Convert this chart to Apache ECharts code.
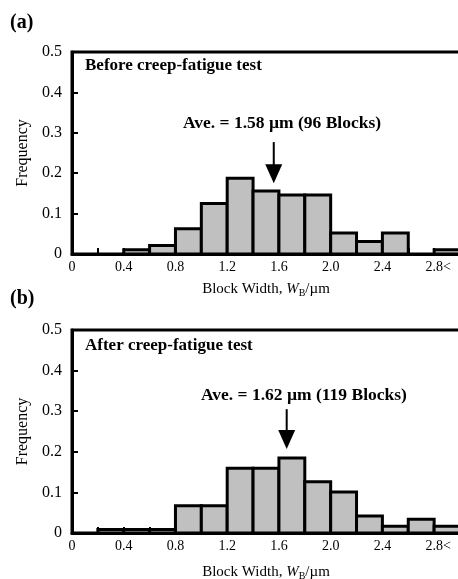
<!DOCTYPE html>
<html><head><meta charset="utf-8">
<script src="https://cdn.jsdelivr.net/npm/echarts@6/dist/echarts.min.js"></script>
<style>html,body{margin:0;padding:0;background:#fff}#c{width:458px;height:579px}</style>
</head><body><div id="c"></div>
<script>
// Data
const binEdges = [0,0.2,0.4,0.6,0.8,1.0,1.2,1.4,1.6,1.8,2.0,2.2,2.4,2.6,2.8,3.0];
const freqBefore = [0,0,1/96,2/96,6/96,12/96,18/96,15/96,14/96,14/96,5/96,3/96,5/96,0,1/96];
const freqAfter  = [0,1/119,1/119,1/119,8/119,8/119,19/119,19/119,22/119,15/119,12/119,5/119,2/119,4/119,2/119];
const xTickLabels = ['0','','0.4','','0.8','','1.2','','1.6','','2.0','','2.4','','2.8<',''];
const yTickLabels = ['0','0.1','0.2','0.3','0.4','0.5'];
const panelLabels = ['(a)','(b)'];
const panelTitles = ['Before creep-fatigue test','After creep-fatigue test'];
const aveTexts = ['Ave. = 1.58 \u00b5m (96 Blocks)','Ave. = 1.62 \u00b5m (119 Blocks)'];
const arrowA = [[1.56,0.277],[1.56,0.175]];
const arrowB = [[1.66,0.305],[1.66,0.207]];

const serif = '"Liberation Serif","DejaVu Serif",serif';
function histData(freq){
  const d=[];
  freq.forEach((f,i)=>{ if(f>0) d.push([binEdges[i],binEdges[i+1],f]); });
  return d;
}
function renderBar(params, api){
  const p0 = api.coord([api.value(0), api.value(2)]);
  const p1 = api.coord([api.value(1), 0]);
  return {type:'rect', shape:{x:p0[0],y:p0[1],width:p1[0]-p0[0],height:p1[1]-p0[1]},
    style:{fill:'#c0c0c0',stroke:'#000',lineWidth:3}};
}
function renderArrow(params, api){
  if(params.dataIndex!==0) return;
  const d = params.seriesIndex===1 ? arrowA : arrowB;
  const a = api.coord(d[0]), b = api.coord(d[1]);
  const hl=19, hw=8.5;
  return {type:'group', children:[
    {type:'line', shape:{x1:a[0],y1:a[1],x2:b[0],y2:b[1]-hl+2}, style:{stroke:'#000',lineWidth:2}},
    {type:'polygon', shape:{points:[[b[0]-hw,b[1]-hl],[b[0]+hw,b[1]-hl],[b[0],b[1]]]}, style:{fill:'#000'}}
  ]};
}
function xAxis(i, gap){
  return {type:'value', gridIndex:i, min:0, max:3.0, interval:0.2,
    axisLine:{lineStyle:{color:'#000',width:3}},
    axisTick:{inside:true,length:6,lineStyle:{color:'#000',width:2}},
    axisLabel:{color:'#000',fontFamily:serif,fontSize:14,margin:6,
      formatter:(v)=>{
        const t = xTickLabels[Math.round(v/0.2)]||'';
        return t.indexOf('<')>=0 ? '{p|'+t+'}' : t;
      },
      rich:{p:{fontFamily:serif,fontSize:14,color:'#000',padding:[0,0,0,8]}}},
    splitLine:{show:false},
    name:'{n|Block Width, }{i|W}{s|B}{n|/\u00b5m}', nameLocation:'middle', nameGap:gap,
    nameTextStyle:{rich:{
      n:{fontFamily:serif,fontSize:15,color:'#000'},
      i:{fontFamily:serif,fontSize:15,fontStyle:'italic',color:'#000'},
      s:{fontFamily:serif,fontSize:10,color:'#000',verticalAlign:'bottom',padding:[8,0,0,0]}
    }}
  };
}
function yAxis(i){
  return {type:'value', gridIndex:i, min:0, max:0.5, interval:0.1,
    axisLine:{show:true,lineStyle:{color:'#000',width:3}},
    axisTick:{show:true,inside:true,length:6,lineStyle:{color:'#000',width:2}},
    axisLabel:{color:'#000',fontFamily:serif,fontSize:16,margin:10,
      formatter:(v)=>yTickLabels[Math.round(v*10)]},
    splitLine:{show:false},
    name:'Frequency', nameLocation:'middle', nameGap:38,
    nameTextStyle:{fontFamily:serif,fontSize:16,color:'#000'}
  };
}
const chart = echarts.init(document.getElementById('c'), null, {renderer:'canvas'});
chart.setOption({
  animation:false,
  grid:[
    {left:72, top:52, width:388, height:202, show:true, borderColor:'#000', borderWidth:3, outerBoundsMode:'none', containLabel:false},
    {left:72, top:330, width:388, height:203, show:true, borderColor:'#000', borderWidth:3, outerBoundsMode:'none', containLabel:false}
  ],
  xAxis:[xAxis(0,26), xAxis(1,30)],
  yAxis:[yAxis(0), yAxis(1)],
  series:[
    {type:'custom', xAxisIndex:0, yAxisIndex:0, renderItem:renderBar, data:histData(freqBefore), clip:true},
    {type:'custom', xAxisIndex:0, yAxisIndex:0, renderItem:renderArrow, data:[[0,0]]},
    {type:'custom', xAxisIndex:1, yAxisIndex:1, renderItem:renderBar, data:histData(freqAfter), clip:true},
    {type:'custom', xAxisIndex:1, yAxisIndex:1, renderItem:renderArrow, data:[[0,0]]}
  ],
  graphic:[
    {type:'text', left:10, top:13, style:{text:panelLabels[0], font:'bold 20px '+serif, fill:'#000'}},
    {type:'text', left:10, top:289, style:{text:panelLabels[1], font:'bold 20px '+serif, fill:'#000'}},
    {type:'text', left:85, top:57, style:{text:panelTitles[0], font:'bold 17px '+serif, fill:'#000'}},
    {type:'text', left:85, top:337, style:{text:panelTitles[1], font:'bold 17px '+serif, fill:'#000'}},
    {type:'text', left:183, top:114, style:{text:aveTexts[0], font:'bold 17.5px '+serif, fill:'#000'}},
    {type:'text', left:201, top:386, style:{text:aveTexts[1], font:'bold 17.5px '+serif, fill:'#000'}}
  ]
});
</script></body></html>
